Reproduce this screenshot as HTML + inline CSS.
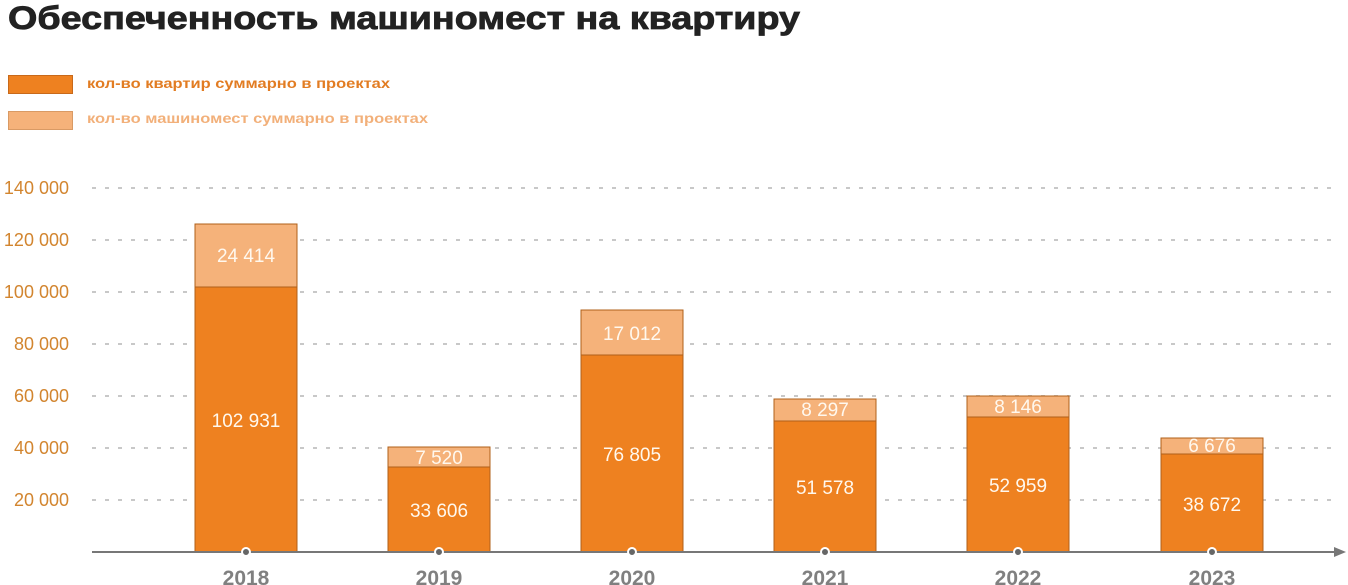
<!DOCTYPE html>
<html><head><meta charset="utf-8"><style>html,body{margin:0;padding:0;background:#fff}svg{display:block}</style></head>
<body>
<svg width="1348" height="585" viewBox="0 0 1348 585" xmlns="http://www.w3.org/2000/svg" font-family="Liberation Sans, sans-serif">
<text x="8" y="29" font-size="32" font-weight="bold" fill="#222" stroke="#222" stroke-width="0.8" textLength="792" lengthAdjust="spacingAndGlyphs">Обеспеченность машиномест на квартиру</text>
<rect x="8.5" y="75.5" width="64" height="18" fill="#ee8120" stroke="#c8691a"/>
<text x="87" y="88" font-size="14" font-weight="bold" fill="#e27c22" textLength="303" lengthAdjust="spacingAndGlyphs">кол-во квартир суммарно в проектах</text>
<rect x="8.5" y="111.5" width="64" height="18" fill="#f5b27a" stroke="#d99a64"/>
<text x="87" y="123" font-size="14" font-weight="bold" fill="#f2b07a" textLength="341" lengthAdjust="spacingAndGlyphs">кол-во машиномест суммарно в проектах</text>
<g stroke="#c8c8c8" stroke-width="2" stroke-dasharray="4 9">
<line x1="92" y1="188" x2="1335" y2="188"/><line x1="92" y1="240" x2="1335" y2="240"/><line x1="92" y1="292" x2="1335" y2="292"/><line x1="92" y1="344" x2="1335" y2="344"/><line x1="92" y1="396" x2="1335" y2="396"/><line x1="92" y1="448" x2="1335" y2="448"/><line x1="92" y1="500" x2="1335" y2="500"/>
</g>
<g font-size="18" fill="#d2852f" text-anchor="end">
<text x="69" y="194">140 000</text><text x="69" y="246">120 000</text><text x="69" y="298">100 000</text><text x="69" y="350">80 000</text><text x="69" y="402">60 000</text><text x="69" y="454">40 000</text><text x="69" y="506">20 000</text>
</g>
<g stroke="#b0601a" stroke-width="1">
<rect x="195" y="224" width="102" height="63" fill="#f5b27a"/><rect x="195" y="287" width="102" height="265" fill="#ee8120"/>
<rect x="388" y="447" width="102" height="20" fill="#f5b27a"/><rect x="388" y="467" width="102" height="85" fill="#ee8120"/>
<rect x="581" y="310" width="102" height="45" fill="#f5b27a"/><rect x="581" y="355" width="102" height="197" fill="#ee8120"/>
<rect x="774" y="399" width="102" height="22" fill="#f5b27a"/><rect x="774" y="421" width="102" height="131" fill="#ee8120"/>
<rect x="967" y="396" width="102" height="21" fill="#f5b27a"/><rect x="967" y="417" width="102" height="135" fill="#ee8120"/>
<rect x="1161" y="438" width="102" height="16" fill="#f5b27a"/><rect x="1161" y="454" width="102" height="98" fill="#ee8120"/>
</g>
<g font-size="19" fill="#fff8ee" text-anchor="middle">
<text x="246" y="262">24 414</text><text x="246" y="427">102 931</text>
<text x="439" y="464">7 520</text><text x="439" y="517">33 606</text>
<text x="632" y="340">17 012</text><text x="632" y="461">76 805</text>
<text x="825" y="416">8 297</text><text x="825" y="494">51 578</text>
<text x="1018" y="413">8 146</text><text x="1018" y="492">52 959</text>
<text x="1212" y="452">6 676</text><text x="1212" y="511">38 672</text>
</g>
<line x1="92" y1="552" x2="1338" y2="552" stroke="#777" stroke-width="2"/>
<polygon points="1346,552 1334,547 1334,557" fill="#777"/>
<g fill="#666" stroke="#fff" stroke-width="2">
<circle cx="246" cy="552" r="4"/><circle cx="439" cy="552" r="4"/><circle cx="632" cy="552" r="4"/><circle cx="825" cy="552" r="4"/><circle cx="1018" cy="552" r="4"/><circle cx="1212" cy="552" r="4"/>
</g>
<g font-size="21" font-weight="bold" fill="#808080" text-anchor="middle">
<text x="246" y="585">2018</text><text x="439" y="585">2019</text><text x="632" y="585">2020</text><text x="825" y="585">2021</text><text x="1018" y="585">2022</text><text x="1212" y="585">2023</text>
</g>
</svg>
</body></html>
